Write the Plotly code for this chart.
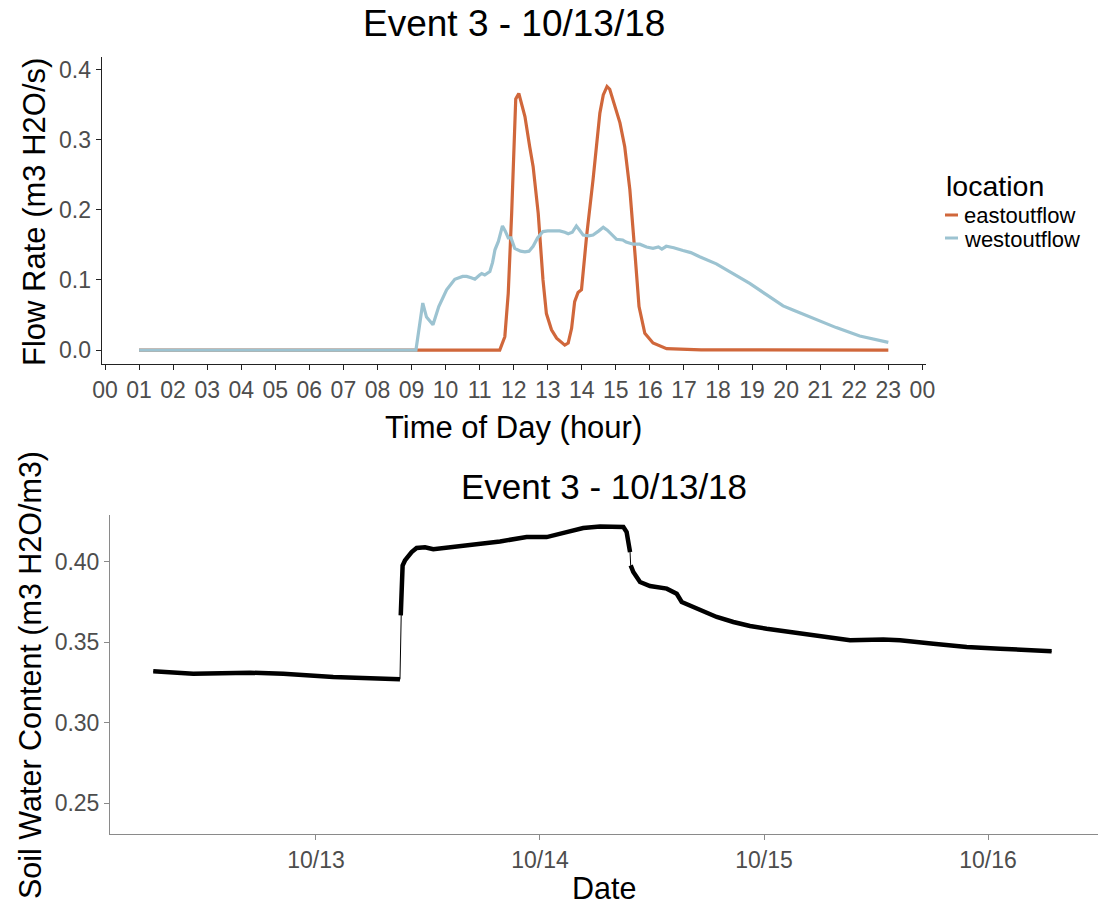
import plotly.graph_objects as go

W, H = 1099, 909

# ---------------- Top chart data (hour of day, m3 H2O/s) ----------------
east_hours = [1.0, 11.59, 11.74, 11.84, 11.94, 12.03, 12.06, 12.15, 12.33, 12.47, 12.57,
              12.72, 12.86, 12.96, 13.11, 13.26, 13.5, 13.6, 13.7, 13.79, 13.89, 13.99,
              14.14, 14.33, 14.53, 14.63, 14.74, 14.82, 15.12, 15.26, 15.41, 15.56, 15.68,
              15.85, 16.09, 16.49, 17.0, 17.5, 23.0]
east_flow = [0.0, 0.0, 0.019, 0.081, 0.195, 0.338, 0.358, 0.366, 0.333, 0.29, 0.262,
             0.195, 0.10, 0.052, 0.029, 0.017, 0.007, 0.010, 0.031, 0.069, 0.082, 0.086,
             0.162, 0.243, 0.338, 0.364, 0.376, 0.372, 0.324, 0.29, 0.229, 0.138, 0.062,
             0.024, 0.010, 0.002, 0.0007, 0.0003, 0.0]

west_hours = [1.0, 9.13, 9.33, 9.44, 9.63, 9.8, 10.03, 10.27, 10.5, 10.62, 10.75, 10.86,
              11.0, 11.06, 11.15, 11.30, 11.38, 11.45, 11.55, 11.67, 11.75, 11.84, 11.92,
              12.03, 12.2, 12.33, 12.45, 12.57, 12.7, 12.86, 13.0, 13.35, 13.5, 13.6,
              13.72, 13.84, 13.92, 14.04, 14.2, 14.33, 14.5, 14.63, 14.75, 14.88, 15.02,
              15.2, 15.3, 15.51, 15.7, 15.9, 16.09, 16.25, 16.35, 16.48, 16.7, 16.97,
              17.2, 17.46, 17.95, 18.44, 18.93, 19.42, 19.91, 20.2, 20.89, 21.47, 22.16,
              22.94, 23.0]
west_flow = [0.0, 0.0, 0.067, 0.047, 0.036, 0.062, 0.086, 0.101, 0.105, 0.105, 0.103, 0.101,
             0.107, 0.109, 0.107, 0.112, 0.125, 0.143, 0.155, 0.177, 0.170, 0.160, 0.160,
             0.145, 0.141, 0.140, 0.141, 0.148, 0.160, 0.169, 0.170, 0.170, 0.168, 0.166,
             0.168, 0.177, 0.172, 0.164, 0.163, 0.164, 0.170, 0.175, 0.171, 0.165, 0.158,
             0.157, 0.154, 0.151, 0.151, 0.147, 0.145, 0.147, 0.144, 0.148, 0.146, 0.142,
             0.139, 0.133, 0.123, 0.109, 0.095, 0.079, 0.063, 0.057, 0.043, 0.032, 0.020,
             0.012, 0.011]

hour_ticks = list(range(25))
hour_labels = ["%02d" % (h % 24) for h in hour_ticks]
flow_ticks = [0.0, 0.1, 0.2, 0.3, 0.4]
flow_labels = ["0.0", "0.1", "0.2", "0.3", "0.4"]

# ---------------- Bottom chart data (soil water content) ----------------
swc_time = ["2018-10-12 06:34", "2018-10-12 10:51", "2018-10-12 16:56", "2018-10-12 20:30",
            "2018-10-13 01:51", "2018-10-13 05:26", "2018-10-13 09:00", "2018-10-13 09:05",
            "2018-10-13 09:10", "2018-10-13 09:17", "2018-10-13 09:32", "2018-10-13 10:15",
            "2018-10-13 10:47", "2018-10-13 11:41", "2018-10-13 12:34", "2018-10-13 14:21",
            "2018-10-13 16:09", "2018-10-13 19:43", "2018-10-13 22:34", "2018-10-14 00:43",
            "2018-10-14 02:51", "2018-10-14 04:38", "2018-10-14 06:26", "2018-10-14 08:56",
            "2018-10-14 09:17", "2018-10-14 09:39", "2018-10-14 09:43", "2018-10-14 10:00",
            "2018-10-14 10:43", "2018-10-14 11:47", "2018-10-14 13:35", "2018-10-14 14:39",
            "2018-10-14 15:11", "2018-10-14 17:09", "2018-10-14 18:56", "2018-10-14 20:43",
            "2018-10-14 22:30", "2018-10-15 00:17", "2018-10-15 03:51", "2018-10-15 07:25",
            "2018-10-15 09:13", "2018-10-15 12:47", "2018-10-15 14:34", "2018-10-15 18:09",
            "2018-10-15 21:43", "2018-10-16 01:17", "2018-10-16 04:51", "2018-10-16 06:49"]
swc_value = [0.332, 0.3305, 0.3311, 0.3305,
             0.3285, 0.3274, 0.327, 0.3667,
             0.377, 0.3977, 0.4008, 0.406,
             0.4085, 0.409, 0.4078, 0.409,
             0.4101, 0.4126, 0.4153, 0.4153,
             0.4184, 0.4209, 0.4219, 0.4215,
             0.4184, 0.406, 0.3977, 0.3936,
             0.3874, 0.3849, 0.3833, 0.3801,
             0.375, 0.3698, 0.3657, 0.3626,
             0.3601, 0.3584, 0.3553, 0.3522,
             0.3512, 0.3518, 0.3512, 0.3491,
             0.3471, 0.346, 0.345, 0.3444]
swc_gap_after = ["2018-10-13 09:00", "2018-10-14 09:39"]  # sparse (thin-line) stretches

date_ticks = ["2018-10-13", "2018-10-14", "2018-10-15", "2018-10-16"]
date_labels = ["10/13", "10/14", "10/15", "10/16"]
swc_ticks = [0.25, 0.30, 0.35, 0.40]
swc_labels = ["0.25", "0.30", "0.35", "0.40"]

EAST = "#D0673B"
WEST = "#9CC3D1"
FONT = "Liberation Sans, Arial, sans-serif"
TICKC = "#4D4D4D"


def fx(p):
    return p / W


def fy(p):
    return 1 - p / H


# thick (dense-data) version with breaks
thick_x, thick_y = [], []
for t, v in zip(swc_time, swc_value):
    thick_x.append(t)
    thick_y.append(v)
    if t in swc_gap_after:
        thick_x.append(None)
        thick_y.append(None)

fig = go.Figure()
fig.add_trace(go.Scatter(x=east_hours, y=east_flow, mode="lines", name="eastoutflow",
                         line=dict(color=EAST, width=3.2), xaxis="x", yaxis="y",
                         showlegend=False))
fig.add_trace(go.Scatter(x=west_hours, y=west_flow, mode="lines", name="westoutflow",
                         line=dict(color=WEST, width=3.2), xaxis="x", yaxis="y",
                         showlegend=False))
fig.add_trace(go.Scatter(x=swc_time, y=swc_value, mode="lines", name="swc",
                         line=dict(color="black", width=1), xaxis="x2", yaxis="y2",
                         showlegend=False))
fig.add_trace(go.Scatter(x=thick_x, y=thick_y, mode="lines", name="swc points",
                         line=dict(color="black", width=4.5), connectgaps=False,
                         xaxis="x2", yaxis="y2", showlegend=False))

axis_common = dict(showgrid=False, zeroline=False, showline=True, ticks="outside",
                   ticklen=5, tickwidth=1, automargin=False,
                   tickfont=dict(family=FONT, size=23, color=TICKC))

fig.update_layout(
    width=W, height=H, autosize=False,
    margin=dict(l=0, r=0, t=0, b=0, pad=0),
    paper_bgcolor="white", plot_bgcolor="white",
    font=dict(family=FONT),
    xaxis=dict(domain=[fx(101.6), fx(925.8)], range=[-0.1, 24.1], anchor="y",
               tickvals=hour_ticks, ticktext=hour_labels,
               linecolor="#222222", tickcolor="#222222", **axis_common),
    yaxis=dict(domain=[fy(364), fy(57)], range=[-0.0199, 0.418], anchor="x",
               tickvals=flow_ticks, ticktext=flow_labels,
               linecolor="#222222", tickcolor="#222222", **axis_common),
    xaxis2=dict(domain=[fx(110), fx(1098)], type="date",
                range=["2018-10-12 01:56", "2018-10-16 11:47"], anchor="y2",
                tickvals=date_ticks, ticktext=date_labels,
                linecolor="#8A8A8A", tickcolor="#8A8A8A", **axis_common),
    yaxis2=dict(domain=[fy(834), fy(515)], range=[0.231, 0.429], anchor="x2",
                tickvals=swc_ticks, ticktext=swc_labels,
                linecolor="#8A8A8A", tickcolor="#8A8A8A", **axis_common),
)

ann = []


def add_text(text, x, y, size, angle=0, xanchor="center", color="black"):
    ann.append(dict(text=text, x=fx(x), y=fy(y), xref="paper", yref="paper",
                    showarrow=False, xanchor=xanchor, yanchor="middle", textangle=angle,
                    font=dict(family=FONT, size=size, color=color)))


add_text("Event 3 - 10/13/18", 513.7, 23, 37)
add_text("Flow Rate (m3 H2O/s)", 35, 212, 31, angle=-90)
add_text("Time of Day (hour)", 513.7, 427, 31)
add_text("Event 3 - 10/13/18", 604, 486, 35)
add_text("Soil Water Content (m3 H2O/m3)", 30, 675, 30.5, angle=-90)
add_text("Date", 604, 888, 30.5)

# legend
add_text("location", 944, 186, 28.5, xanchor="left")
add_text("eastoutflow", 962, 215, 22, xanchor="left")
add_text("westoutflow", 962, 239, 22, xanchor="left")
fig.update_layout(annotations=ann)

fig.add_shape(type="line", xref="paper", yref="paper", x0=fx(945), x1=fx(958),
              y0=fy(215), y1=fy(215), line=dict(color=EAST, width=3))
fig.add_shape(type="line", xref="paper", yref="paper", x0=fx(945), x1=fx(958),
              y0=fy(238), y1=fy(238), line=dict(color=WEST, width=3))

fig.write_html("out.html")
